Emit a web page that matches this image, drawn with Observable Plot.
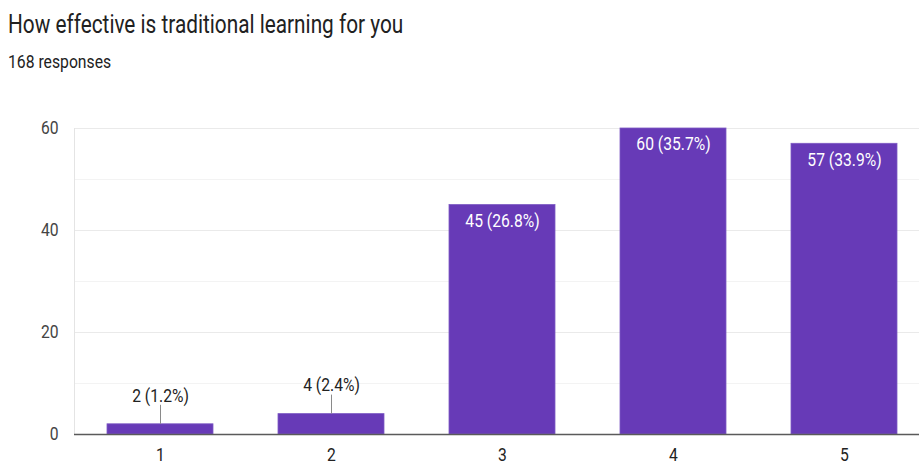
<!DOCTYPE html>
<html>
<head>
<meta charset="utf-8">
<script src="https://cdn.jsdelivr.net/npm/d3@7"></script>
<script src="https://cdn.jsdelivr.net/npm/@observablehq/plot@0.6"></script>
<style>
  html, body { margin: 0; padding: 0; background: #fff; overflow: hidden; }
  #wrap { width: 919px; height: 467px; position: relative; font-family: Roboto, sans-serif; }
  #head { position: relative; height: 80px; }
  #title { position: absolute; left: 8px; top: 12px; font-size: 25.5px; line-height: 25.5px; color: #212121; white-space: nowrap; transform: scaleX(0.815); transform-origin: 0 0; }
  #sub { position: absolute; left: 8px; top: 53px; font-size: 18.5px; line-height: 18.5px; color: #212121; white-space: nowrap; transform: scaleX(0.85); transform-origin: 0 0; }
  #chart svg { display: block; }
</style>
</head>
<body>
<div id="wrap">
  <div id="head">
    <div id="title">How effective is traditional learning for you</div>
    <div id="sub">168 responses</div>
  </div>
  <div id="chart"></div>
</div>
<script>
const categories = ["1", "2", "3", "4", "5"];
const counts = [2, 4, 45, 60, 57];
const percents = ["1.2%", "2.4%", "26.8%", "35.7%", "33.9%"];
const yTicks = [0, 20, 40, 60];
const yMinor = [10, 30, 50];

const data = categories.map((c, i) => ({cat: c, value: counts[i], label: `${counts[i]} (${percents[i]})`}));
const inside = data.filter(d => d.value >= 10);
const outside = data.filter(d => d.value < 10);

const FS = 18;
const plot = Plot.plot({
  width: 919,
  height: 387,
  marginTop: 48,
  marginBottom: 33,
  marginLeft: 74,
  marginRight: 0,
  style: {fontFamily: "Roboto, sans-serif", background: "#fff", overflow: "visible"},
  x: {type: "band", domain: categories, range: [74.4, 930.6], paddingInner: 0.38, paddingOuter: 0.19, axis: null},
  y: {domain: [0, 60], axis: null},
  marks: [
    Plot.ruleY(yMinor, {stroke: "#f3f3f3", strokeWidth: 1}),
    Plot.ruleY(yTicks.filter(t => t > 0), {stroke: "#eaeaea", strokeWidth: 1}),
    Plot.frame({anchor: "left", stroke: "#e4e4e4"}),
    Plot.barY(data, {x: "cat", y: "value", fill: "#673ab7", stroke: "#7e5bc4", strokeWidth: 0.8}),
    Plot.ruleY([0], {stroke: "#5a5a5a", strokeWidth: 1.6}),
    Plot.ruleX(outside, {x: "cat", y1: "value", y2: "value", insetTop: 0, insetBottom: 19, stroke: "#8a8a8a", strokeWidth: 1}),
    Plot.text(outside, {x: "cat", y: "value", text: "label", dy: -28.5, fill: "#222222", fontSize: FS, lineAnchor: "middle"}),
    Plot.text(inside, {x: "cat", y: "value", text: "label", dy: 16, fill: "#ffffff", fontSize: FS, lineAnchor: "middle"}),
    Plot.axisY({ticks: yTicks, tickSize: 0, tickPadding: 16, fontSize: FS, color: "#444444", label: null, lineAnchor: "middle"}),
    Plot.axisX({domain: categories, tickSize: 0, tickPadding: 0, fontSize: FS, color: "#222222", dy: 21, label: null, lineAnchor: "middle"})
  ]
});
// horizontal compression of glyphs to match the reference's narrow text
const K = 0.87;
plot.querySelectorAll("text").forEach(t => {
  const x = parseFloat(t.getAttribute("x")) || 0;
  const y = parseFloat(t.getAttribute("y")) || 0;
  const tr = t.getAttribute("transform") || "";
  t.setAttribute("transform", `${tr} translate(${x},${y}) scale(${K},1) translate(${-x},${-y})`);
});
document.getElementById("chart").appendChild(plot);
</script>
</body>
</html>
